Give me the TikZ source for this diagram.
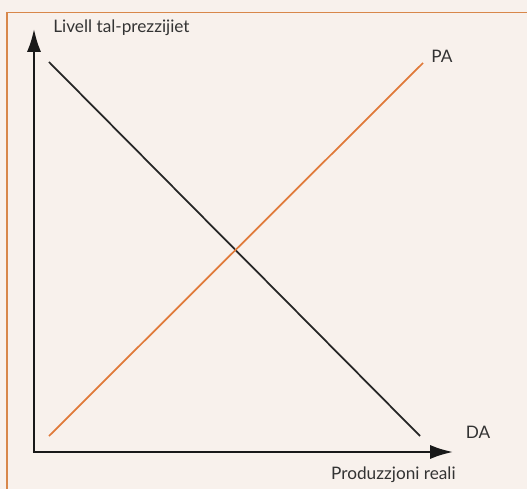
\documentclass[tikz,border=0pt]{standalone}
\usepackage{fontspec}
\setmainfont{Lato}
\usetikzlibrary{arrows.meta}
\definecolor{fondo}{HTML}{F8F1EC}
\definecolor{qafas}{HTML}{D8874A}
\definecolor{oranjo}{HTML}{E07A3A}
\definecolor{kitba}{HTML}{333333}
\begin{document}
\begin{tikzpicture}[
    x=0.02cm, y=-0.02cm,
    font=\fontsize{9.8}{11}\selectfont, text=kitba,
    fies/.style={line width=1.2pt, black!90, -{Latex[length=13pt, width=8pt]}},
    kurva/.style={line width=1pt},
    tikketta/.style={inner sep=0pt},
  ]
  % --- Sfond u qafas ---
  \fill[fondo] (0,0) rectangle (527,489);
  \useasboundingbox (0,0) rectangle (527,489);
  \draw[qafas, line width=1.1pt] (7,489) -- (7,12.5) -- (527,12.5);
  % --- Assi ---
  \coordinate (O) at (34,452);
  \coordinate (ytop) at (34,29);
  \coordinate (xend) at (453,452);
  \draw[fies] (O) -- (ytop);
  \draw[fies] ([xshift=-0.6pt]O) -- (xend);
  \node[tikketta, anchor=base west] (ylab) at (53,33) {Livell tal-prezzijiet};
  \node[tikketta, anchor=base east] (xlab) at (456,479) {Produzzjoni reali};
  % --- Kurvi ---
  \coordinate (da1) at (49,62);
  \coordinate (da2) at (420,436);
  \coordinate (pa1) at (49,436);
  \coordinate (pa2) at (423,63);
  \draw[kurva, black!85] (da1) -- (da2);
  \draw[kurva, oranjo] (pa1) -- (pa2);
  \node[tikketta] (pa) at (442,56) {PA};
  \node[tikketta] (da) at (478,432) {DA};
\end{tikzpicture}
\end{document}
